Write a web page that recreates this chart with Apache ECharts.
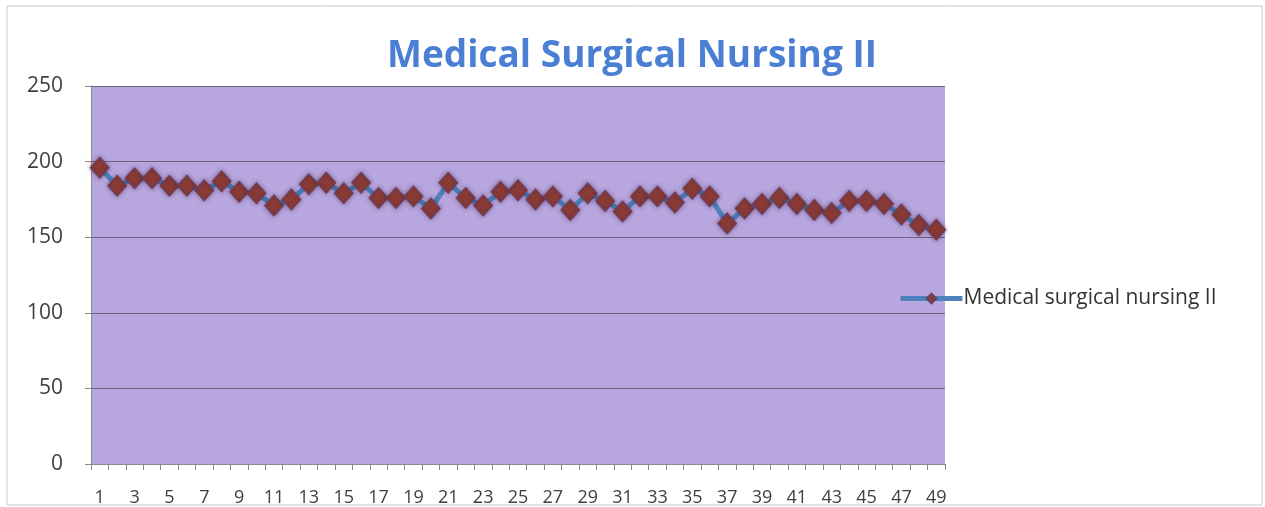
<!DOCTYPE html>
<html>
<head>
<meta charset="utf-8">
<title>Medical Surgical Nursing II</title>
<script src="https://cdn.jsdelivr.net/npm/echarts@6/dist/echarts.min.js"></script>
<style>
  html, body { margin: 0; padding: 0; background: #fff; }
  #chart { width: 1265px; height: 507px; }
</style>
</head>
<body>
<div id="chart"></div>
<script>
// chart data
var categories = []
for (var i = 1; i <= 49; i++) categories.push(String(i))

var seriesName = 'Medical surgical nursing II'
var scores = [
  196, 184, 189, 189, 184, 184, 181, 187, 180, 179,
  171, 175, 185, 186, 179, 186, 176, 176, 177, 169,
  186, 176, 171, 180, 181, 175, 177, 168, 179, 174,
  167, 177, 177, 173, 182, 177, 159, 169, 172, 176,
  172, 168, 166, 174, 174, 172, 165, 158, 155
]
var yTicks = [0, 50, 100, 150, 200, 250]

var chart = echarts.init(document.getElementById('chart'))

chart.setOption({
  animation: false,
  title: {
    text: 'Medical Surgical Nursing II',
    left: 627,
    top: 33,
    textAlign: 'center',
    textStyle: {
      fontFamily: 'Open Sans',
      fontSize: 37,
      fontWeight: 'bold',
      color: '#4a7fd4'
    }
  },
  graphic: [{
    type: 'rect',
    shape: { x: 7, y: 6, width: 1255, height: 499 },
    style: { fill: 'none', stroke: '#c8c8c8', lineWidth: 1 },
    silent: true
  }],
  legend: {
    left: 893,
    top: 283,
    itemWidth: 62,
    itemHeight: 12,
    itemGap: 0,
    lineStyle: { width: 5 },
    textStyle: {
      fontFamily: 'Open Sans',
      fontSize: 21,
      color: '#333',
      padding: [0, 0, 0, -4]
    },
    data: [seriesName]
  },
  grid: {
    left: 91,
    top: 86,
    right: 320,
    bottom: 42,
    show: true,
    backgroundColor: '#b8a6df',
    borderWidth: 0
  },
  xAxis: {
    type: 'category',
    data: categories,
    boundaryGap: true,
    axisLine: { lineStyle: { color: '#8a8a8a', width: 1 } },
    axisTick: { show: true, interval: 0, length: 6, lineStyle: { color: '#8a8a8a' } },
    axisLabel: {
      interval: 1,
      margin: 25,
      fontFamily: 'Open Sans',
      fontSize: 18,
      color: '#404040'
    }
  },
  yAxis: {
    type: 'value',
    min: yTicks[0],
    max: yTicks[yTicks.length - 1],
    interval: yTicks[1] - yTicks[0],
    axisLine: { show: true, lineStyle: { color: '#8a8a8a', width: 1 } },
    axisTick: { show: true, length: 6, lineStyle: { color: '#8a8a8a' } },
    axisLabel: {
      margin: 28,
      fontFamily: 'Open Sans',
      fontSize: 21,
      color: '#404040'
    },
    splitLine: {
      show: true,
      lineStyle: { color: '#6e6180', width: 1 }
    }
  },
  series: [{
    name: seriesName,
    type: 'line',
    data: scores,
    showAllSymbol: true,
    symbol: 'diamond',
    symbolSize: [19, 21],
    lineStyle: { color: '#4f81bd', width: 5 },
    itemStyle: {
      color: '#8a3b36',
      borderColor: '#6a4060',
      borderWidth: 1,
      shadowColor: 'rgba(60,30,60,0.5)',
      shadowBlur: 4
    }
  }]
})
</script>
</body>
</html>
